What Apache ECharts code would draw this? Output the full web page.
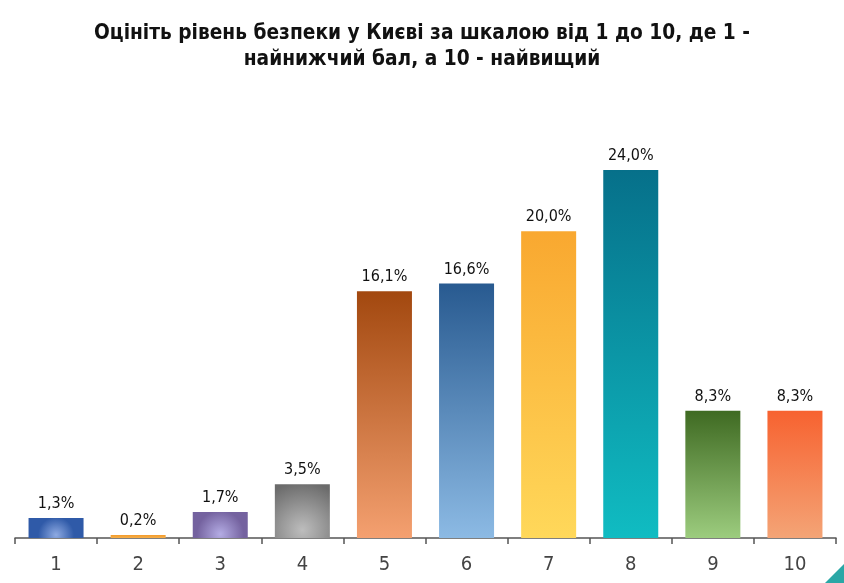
<!DOCTYPE html>
<html>
<head>
<meta charset="utf-8">
<script src="https://cdn.jsdelivr.net/npm/echarts@6/dist/echarts.min.js"></script>
<style>html,body{margin:0;padding:0;background:#fff;}#c{width:844px;height:583px;}</style>
</head>
<body>
<div id="c"></div>
<script>
const titleText = 'Оцініть рівень безпеки у Києві за шкалою від 1 до 10, де 1 -\nнайнижчий бал, а 10 - найвищий';
const categories = ['1','2','3','4','5','6','7','8','9','10'];
const values = [1.3, 0.2, 1.7, 3.5, 16.1, 16.6, 20.0, 24.0, 8.3, 8.3];

// gradient styles per bar: [type, topColor, bottomColor]
const barStyles = [
  ['radial', '#8eaae2', '#2f5aa8'],
  ['linear', '#f39a2a', '#f6b04a'],
  ['radial', '#b4ace4', '#74629f'],
  ['radial', '#bdbdbd', '#6b6b6b'],
  ['linear', '#a2480f', '#f4a070'],
  ['linear', '#285a90', '#8cbae4'],
  ['linear', '#f9a830', '#ffd85a'],
  ['linear', '#06708a', '#10bcc2'],
  ['linear', '#3f6a22', '#9ccc7e'],
  ['linear', '#f76230', '#f4a476']
];

function makeColor(s) {
  if (s[0] === 'radial') {
    return new echarts.graphic.RadialGradient(0.5, 0.85, 0.9, [
      {offset: 0, color: s[1]}, {offset: 1, color: s[2]}
    ]);
  }
  return new echarts.graphic.LinearGradient(0, 0, 0, 1, [
    {offset: 0, color: s[1]}, {offset: 1, color: s[2]}
  ]);
}

const chart = echarts.init(document.getElementById('c'), null, {renderer: 'canvas'});
chart.setOption({
  backgroundColor: '#fff',
  animation: false,
  title: {
    text: titleText,
    left: 'center',
    top: 16,
    textStyle: {
      fontFamily: 'DejaVu Sans Condensed',
      fontWeight: 'bold',
      fontSize: 20.7,
      lineHeight: 26,
      color: '#111'
    }
  },
  grid: {left: 15, right: 8, top: 78, bottom: 45},
  xAxis: {
    type: 'category',
    data: categories,
    axisLine: {lineStyle: {color: '#555', width: 1.5}},
    axisTick: {show: true, alignWithLabel: false, length: 6, lineStyle: {color: '#555', width: 1.5}},
    axisLabel: {color: '#444', fontSize: 20, margin: 17, fontFamily: 'DejaVu Sans Condensed'}
  },
  yAxis: {
    type: 'value',
    min: 0,
    max: 30,
    show: false,
    splitLine: {show: false}
  },
  series: [{
    type: 'bar',
    barCategoryGap: '33%',
    data: values.map((v, i) => ({value: v, itemStyle: {color: makeColor(barStyles[i])}})),
    label: {
      show: true,
      position: 'top',
      distance: 6,
      color: '#111',
      fontSize: 16,
      fontFamily: 'DejaVu Sans Condensed',
      formatter: p => p.value.toFixed(1).replace('.', ',') + '%'
    }
  }],
  graphic: [{
    type: 'polygon',
    shape: {points: [[844, 564], [844, 583], [825, 583]]},
    style: {fill: '#2aa7a6'}
  }]
});
</script>
</body>
</html>
